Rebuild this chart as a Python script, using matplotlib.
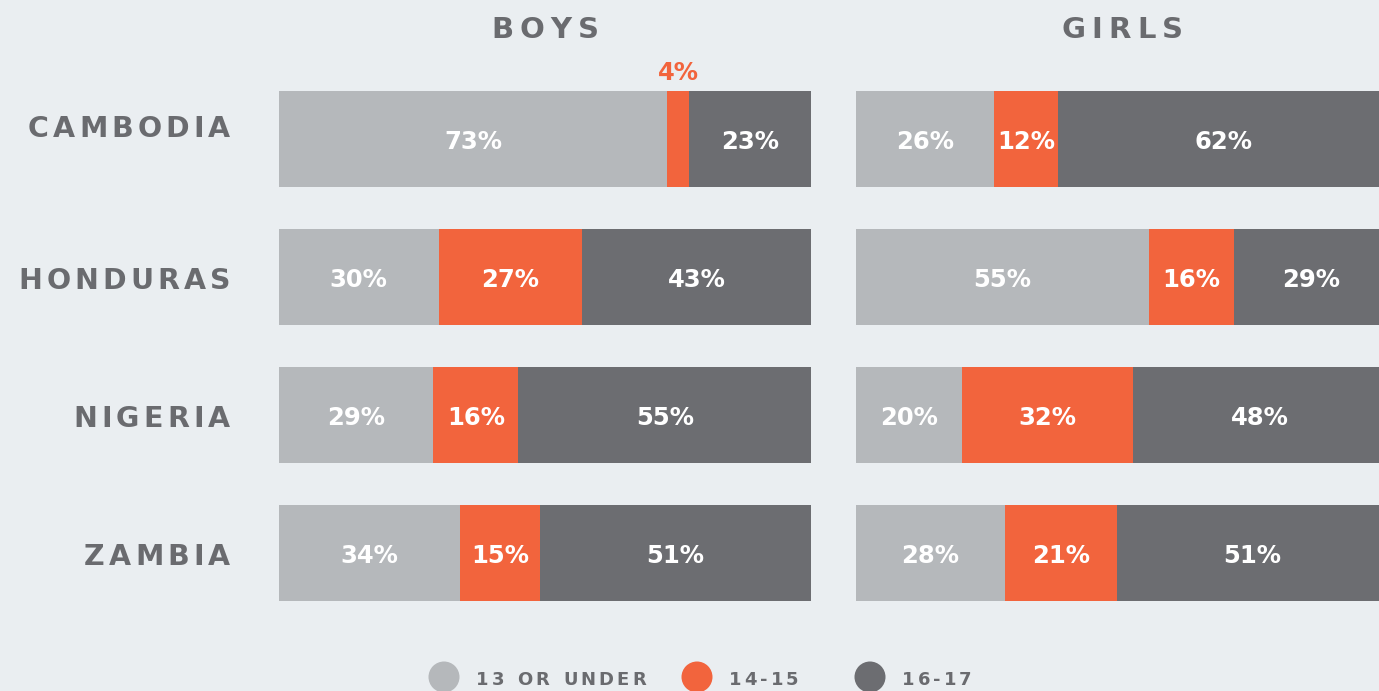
import matplotlib
matplotlib.use("Agg")
import matplotlib.pyplot as plt
from matplotlib.patches import Circle
from matplotlib.font_manager import FontProperties

# ---- data ----
countries = ["CAMBODIA", "HONDURAS", "NIGERIA", "ZAMBIA"]
age_groups = ["13 OR UNDER", "14-15", "16-17"]
boys_13_under = [73, 30, 29, 34]
boys_14_15 = [4, 27, 16, 15]
boys_16_17 = [23, 43, 55, 51]
girls_13_under = [26, 55, 20, 28]
girls_14_15 = [12, 16, 32, 21]
girls_16_17 = [62, 29, 48, 51]
panel_titles = ["BOYS", "GIRLS"]

# ---- style ----
BG = "#EAEEF1"
C_LIGHT = "#B5B8BB"
C_ORANGE = "#F2643D"
C_DARK = "#6C6D71"
TXT = "#6A6B6F"
colors = [C_LIGHT, C_ORANGE, C_DARK]
FAMILY = ["DejaVu Sans"]

W, H = 1379, 691
fig = plt.figure(figsize=(W / 100, H / 100), dpi=100, facecolor=BG)


def px_axes(x0, y0, x1, y1):
    return fig.add_axes([x0 / W, 1 - y1 / H, (x1 - x0) / W, (y1 - y0) / H])


# overlay axes in pixel coordinates
ov = fig.add_axes([0, 0, 1, 1], zorder=5)
ov.set_xlim(0, W)
ov.set_ylim(H, 0)
ov.axis("off")
ov.patch.set_alpha(0)

renderer = fig.canvas.get_renderer()


def spaced_text(x, y, s, size, color, tracking, ha="left", space=0.33):
    """Draw letter-spaced text; y is the baseline in pixels."""
    fp = FontProperties(family=FAMILY, weight="bold", size=size)
    widths = []
    for ch in s:
        if ch == " ":
            widths.append(size * 100 / 72 * space)
        else:
            w, h, d = renderer.get_text_width_height_descent(ch, fp, ismath=False)
            widths.append(w)
    total = sum(widths) + tracking * (len(s) - 1)
    if ha == "center":
        start = x - total / 2
    elif ha == "right":
        start = x - total
    else:
        start = x
    cx = start
    for ch, w in zip(s, widths):
        if ch != " ":
            ov.text(cx, y, ch, fontproperties=fp, color=color,
                    ha="left", va="baseline")
        cx += w + tracking


bar_h = 96 / 138
ypos = list(range(len(countries)))
panels = [
    (279, 811, [boys_13_under, boys_14_15, boys_16_17]),
    (856, 1388, [girls_13_under, girls_14_15, girls_16_17]),
]

for (x0, x1, series), title in zip(panels, panel_titles):
    ax = px_axes(x0, 91, x1, 601)
    ax.set_xlim(0, 100)
    ax.set_ylim(len(countries) - 1 + bar_h / 2, -bar_h / 2)
    ax.axis("off")
    left = [0] * len(countries)
    for vals, col in zip(series, colors):
        ax.barh(ypos, vals, left=left, height=bar_h, color=col, linewidth=0)
        for i, v in enumerate(vals):
            cxv = left[i] + v / 2
            if v < 5:
                ax.text(cxv, ypos[i] - bar_h / 2 - 0.04, f"{v}%", color=C_ORANGE,
                        fontsize=17.5, fontweight="bold", family=FAMILY,
                        ha="center", va="bottom", clip_on=False)
            else:
                ax.text(cxv, ypos[i] + 0.02, f"{v}%", color="white",
                        fontsize=17.5, fontweight="bold", family=FAMILY,
                        ha="center", va="center")
        left = [l + v for l, v in zip(left, vals)]
    spaced_text((x0 + x1) / 2, 38, title, 21, TXT, 6.0, ha="center")

row_centers = [139, 277, 415, 553]
label_offsets = [-2, 12, 12, 12]
for c, yc, off in zip(countries, row_centers, label_offsets):
    spaced_text(230, yc + off, c, 20.5, TXT, 4.1, ha="right")

# legend
leg_x = [444, 697, 870]
for lx, lab, col in zip(leg_x, age_groups, colors):
    ov.add_patch(Circle((lx, 677), 15.5, color=col, linewidth=0))
    spaced_text(lx + 32, 685, lab, 13, TXT, 3.0, ha="left", space=0.42)

fig.savefig("out.png", dpi=100, facecolor=BG)
